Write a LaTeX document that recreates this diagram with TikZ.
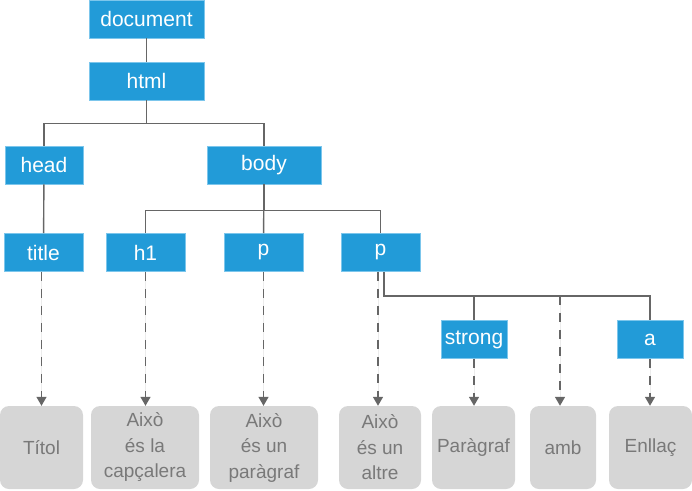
\documentclass[tikz,border=0pt]{standalone}
\usepackage{fontspec}
\setmainfont{Liberation Sans}
\usepackage{tikz}
\usetikzlibrary{arrows.meta}
\definecolor{tagblue}{HTML}{229BD8}
\definecolor{tagedge}{HTML}{7CC6EC}
\definecolor{leafgray}{HTML}{D6D6D6}
\definecolor{linkgray}{HTML}{666666}

\begin{document}
\begin{tikzpicture}[
  x=1pt, y=-1pt,
  font=\fontsize{19}{25.5}\selectfont,
  tag/.style  = {draw=tagedge, line width=0.6pt, fill=tagblue, text=white,
                 font=\fontsize{21}{25}\selectfont,
                 minimum height=38pt, inner sep=0pt},
  leaf/.style = {fill=leafgray, rounded corners=9pt, text=gray!95!black,
                 minimum height=83pt, inner sep=0pt, align=center},
  link/.style = {draw=linkgray, line width=1.4pt},
  ref/.style  = {-{Triangle[length=9pt,width=10pt]}, draw=linkgray,
                 fill=linkgray, line width=1.4pt, dash pattern=on 9pt off 8pt}
]
\useasboundingbox (0,0) rectangle (692,490);
%% DOM nodes
\node[tag, minimum width=115pt] (doc)  at (146.5,19)   {document};
\node[tag, minimum width=115pt] (html) at (146.5,81)   {html};
\node[tag, minimum width=78pt]  (head) at (44,165)     {head};
\node[tag, minimum width=114pt] (body) at (264,165)    {body};
\node[tag, minimum width=79pt]  (tit)  at (43.5,252.5) {title};
\node[tag, minimum width=79pt]  (hone) at (145.5,252.5){h1};
\node[tag, minimum width=79pt]  (pa)   at (263.5,252.5){p};
\node[tag, minimum width=79pt]  (pb)   at (380.5,252.5){p};
\node[tag, minimum width=66pt]  (str)  at (474,339.5)  {strong};
\node[tag, minimum width=66pt]  (lnk)  at (650,339.5)  {a};
%% Text nodes
\node[leaf, minimum width=83pt]  (ttol) at (41.5,447.5)  {Títol};
\node[leaf, minimum width=108pt] (tcap) at (145,447.5)   {Això\\és la\\capçalera};
\node[leaf, minimum width=108pt] (tpar) at (264,447.5)   {Això\\és un\\paràgraf};
\node[leaf, minimum width=82pt]  (talt) at (380,447.5)   {Això\\és un\\altre};
\node[leaf, minimum width=83pt]  (tstr) at (473.5,447.5) {Paràgraf};
\node[leaf, minimum width=66pt]  (tamb) at (563,447.5)   {amb};
\node[leaf, minimum width=83pt]  (tlnk) at (650.5,447.5) {Enllaç};
%% Tree links
\draw[link] (doc)--(html);
\draw[link] (html.south) -- ++(0,23) -| (head.north);
\draw[link] (html.south) -- ++(0,23) -| (body.north);
\draw[link] (head)--(tit);
\draw[link] (body.south) -- ++(0,26) -| (hone.north);
\draw[link] (body.south) -- ++(0,26) -| (pb.north);
\draw[link] (body)--(pa);
\draw[link] ([xshift=3.5pt]pb.south) |- ++(0,24) coordinate (pjoin) -| (lnk.north);
\draw[link] (pjoin -| str.north) -- (str.north);
\coordinate (ambtop) at (pjoin -| 560,0);
%% Text references
\draw[ref] ([xshift=-2pt]tit.south) -- ([xshift=-2pt]tit.south |- ttol.north);
\foreach \src/\dst in {hone/tcap,pa/tpar,str/tstr,lnk/tlnk}{
  \draw[ref] (\src.south) -- (\src.south |- \dst.north);}
\draw[ref] ([xshift=-2.5pt]pb.south) -- ([xshift=-2.5pt]pb.south |- talt.north);
\draw[ref] (ambtop) -- (ambtop |- tamb.north);
\end{tikzpicture}
\end{document}
